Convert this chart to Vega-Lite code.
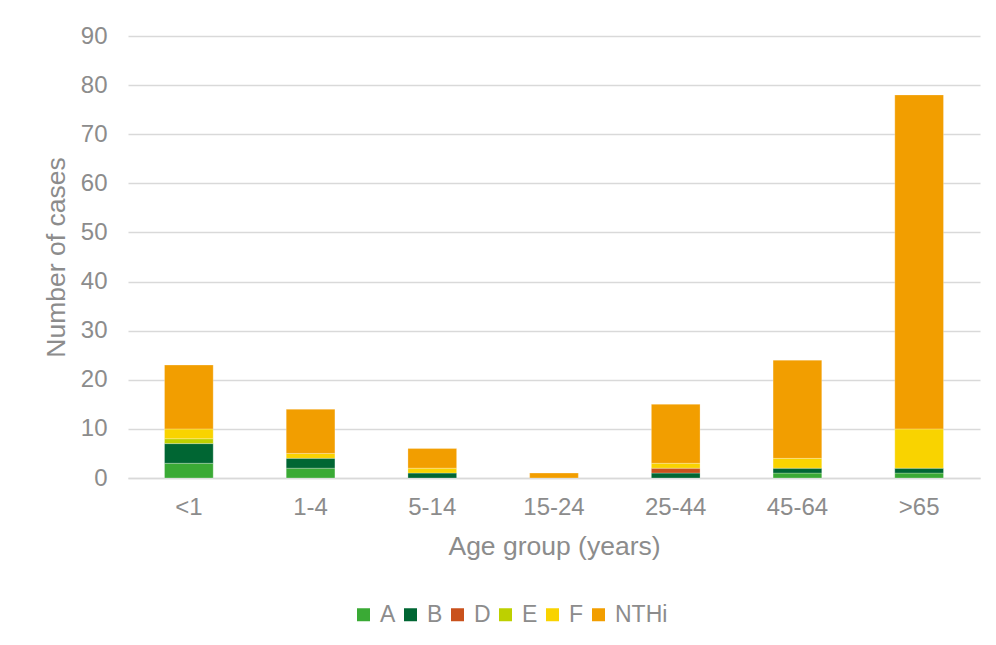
{
  "$schema": "https://vega.github.io/schema/vega-lite/v6.json",
  "autosize": {"type": "none"},
  "padding": {"left": 128, "top": 36, "right": 16, "bottom": 167},
  "width": 852,
  "height": 442,
  "background": "white",
  "config": {
    "font": "Liberation Sans",
    "view": {"stroke": null}
  },
  "data": {
    "values": [
      {"age": "<1", "type": "A", "n": 3},
      {"age": "<1", "type": "B", "n": 4},
      {"age": "<1", "type": "E", "n": 1},
      {"age": "<1", "type": "F", "n": 2},
      {"age": "<1", "type": "NTHi", "n": 13},
      {"age": "1-4", "type": "A", "n": 2},
      {"age": "1-4", "type": "B", "n": 2},
      {"age": "1-4", "type": "F", "n": 1},
      {"age": "1-4", "type": "NTHi", "n": 9},
      {"age": "5-14", "type": "B", "n": 1},
      {"age": "5-14", "type": "F", "n": 1},
      {"age": "5-14", "type": "NTHi", "n": 4},
      {"age": "15-24", "type": "NTHi", "n": 1},
      {"age": "25-44", "type": "B", "n": 1},
      {"age": "25-44", "type": "D", "n": 1},
      {"age": "25-44", "type": "F", "n": 1},
      {"age": "25-44", "type": "NTHi", "n": 12},
      {"age": "45-64", "type": "A", "n": 1},
      {"age": "45-64", "type": "B", "n": 1},
      {"age": "45-64", "type": "F", "n": 2},
      {"age": "45-64", "type": "NTHi", "n": 20},
      {"age": ">65", "type": "A", "n": 1},
      {"age": ">65", "type": "B", "n": 1},
      {"age": ">65", "type": "F", "n": 8},
      {"age": ">65", "type": "NTHi", "n": 68}
    ]
  },
  "transform": [
    {"calculate": "indexof(['A','B','D','E','F','NTHi'], datum.type)", "as": "ord"}
  ],
  "mark": {"type": "bar", "stroke": "white", "strokeWidth": 0.5, "strokeOpacity": 0.5},
  "encoding": {
    "x": {
      "field": "age",
      "type": "nominal",
      "sort": ["<1", "1-4", "5-14", "15-24", "25-44", "45-64", ">65"],
      "scale": {"paddingInner": 0.6, "paddingOuter": 0.3},
      "axis": {
        "title": "Age group (years)",
        "labelAngle": 0,
        "labelFontSize": 24,
        "labelColor": "#8c8c8c",
        "labelPadding": 17,
        "ticks": false,
        "domainColor": "#d9d9d9",
        "domainWidth": 1.5,
        "titleFontSize": 26.5,
        "titleFontWeight": "normal",
        "titleColor": "#8c8c8c",
        "titlePadding": 14
      }
    },
    "y": {
      "field": "n",
      "type": "quantitative",
      "stack": "zero",
      "scale": {"domain": [0, 90]},
      "axis": {
        "title": "Number of cases",
        "values": [0, 10, 20, 30, 40, 50, 60, 70, 80, 90],
        "labelFontSize": 24,
        "labelColor": "#8c8c8c",
        "labelPadding": 21,
        "ticks": false,
        "domain": false,
        "gridColor": "#d9d9d9",
        "gridWidth": 1.5,
        "titleFontSize": 26.5,
        "titleFontWeight": "normal",
        "titleColor": "#8c8c8c",
        "titlePadding": 10
      }
    },
    "color": {
      "field": "type",
      "type": "nominal",
      "scale": {
        "domain": ["A", "B", "D", "E", "F", "NTHi"],
        "range": ["#3aaa35", "#006633", "#c9511c", "#bdd000", "#f9d300", "#f29e00"]
      },
      "legend": {
        "title": null,
        "orient": "none",
        "legendX": 224,
        "legendY": 567,
        "direction": "horizontal",
        "symbolType": "square",
        "symbolSize": 169,
        "symbolStrokeWidth": 0,
        "labelFontSize": 23,
        "labelColor": "#8c8c8c",
        "labelOffset": 5,
        "columnPadding": 3
      }
    },
    "order": {"field": "ord", "type": "quantitative"}
  }
}
